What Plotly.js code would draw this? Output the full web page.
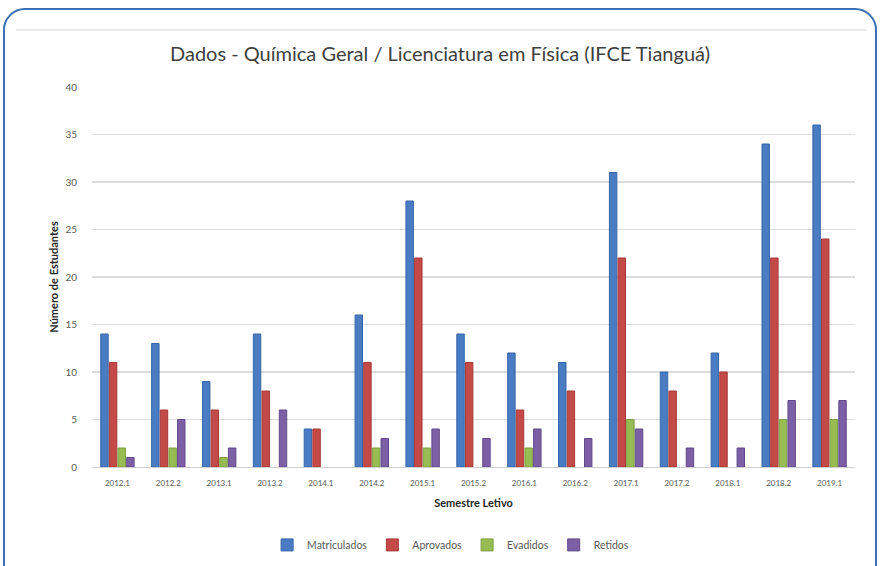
<!DOCTYPE html>
<html>
<head>
<meta charset="utf-8">
<script src="https://cdn.plot.ly/plotly-3.0.1.min.js"></script>
<style>
html, body { margin:0; padding:0; width:880px; height:566px; overflow:hidden; background:#fff; }
#frame { position:absolute; left:3px; top:8px; width:874px; height:600px; border:2px solid #3b6fb6; border-radius:22px; box-sizing:border-box; }
#chart { position:absolute; left:0; top:0; width:880px; height:566px; }
</style>
</head>
<body>
<div id="frame"></div>
<div id="chart"></div>
<script>
const categories = ["2012.1","2012.2","2013.1","2013.2","2014.1","2014.2","2015.1","2015.2","2016.1","2016.2","2017.1","2017.2","2018.1","2018.2","2019.1"];
const matriculados = [14,13,9,14,4,16,28,14,12,11,31,10,12,34,36];
const aprovados   = [11,6,6,8,4,11,22,11,6,8,22,8,10,22,24];
const evadidos    = [2,2,1,0,0,2,2,0,2,0,5,0,0,5,5];
const retidos     = [1,5,2,6,0,3,4,3,4,3,4,2,2,7,7];
const seriesNames = ["Matriculados","Aprovados","Evadidos","Retidos"];
const colors = ["#4a7cc4","#c44a47","#97bd52","#7d5fa6"];
const lineColors = ["#3565a8","#a63936","#7d9f42","#63498a"];
const values = [matriculados, aprovados, evadidos, retidos];

const traces = values.map((v,i)=>({
  type:'bar', name:seriesNames[i], x:categories, y:v,
  marker:{color:colors[i], line:{color:lineColors[i], width:v.map(d=>d===0?0:1)}},
  hoverinfo:'x+y+name'
}));

const layout = {
  width:880, height:566,
  margin:{l:92, r:25, t:87, b:99, autoexpand:false},
  paper_bgcolor:'rgba(0,0,0,0)', plot_bgcolor:'rgba(0,0,0,0)',
  font:{family:'Lato, "Open Sans", sans-serif', color:'#595959'},
  title:{text:'Dados - Química Geral / Licenciatura em Física (IFCE Tianguá)',
         font:{family:'Lato, sans-serif', size:20, color:'#404040'},
         x:0.5, xanchor:'center', y:0.905, yanchor:'middle', yref:'container'},
  bargap:0.32, bargroupgap:0.14,
  xaxis:{type:'category', tickfont:{size:8, color:'#595959'}, ticks:'', showline:true, linecolor:'#d0d0d0', linewidth:1,
         ticklabelstandoff:8,
         title:{text:'<b>Semestre Letivo</b>', font:{size:11, color:'#262626'}, standoff:12}},
  yaxis:{range:[0,40], dtick:5, tickfont:{size:10, color:'#595959'}, gridcolor:'#dcdcdc', gridwidth:1.5,
         zeroline:true, zerolinecolor:'#d0d0d0', showline:false, ticks:'', ticklabelstandoff:14,
         title:{text:'<b>Número de Estudantes</b>', font:{size:11, color:'#262626'}, standoff:4}},
  legend:{orientation:'h', x:0.47, xanchor:'center', y:-0.205, yanchor:'middle', font:{size:10.5, color:'#595959'},
          itemwidth:30, tracegroupgap:0},
  shapes:[{type:'line', xref:'paper', yref:'paper', x0:-0.1, x1:1.015, y0:1.15, y1:1.15, line:{color:'#e3e3e3', width:1.5}}],
  showlegend:true
};
Plotly.newPlot('chart', traces, layout, {displayModeBar:false, staticPlot:true});
</script>
</body>
</html>
